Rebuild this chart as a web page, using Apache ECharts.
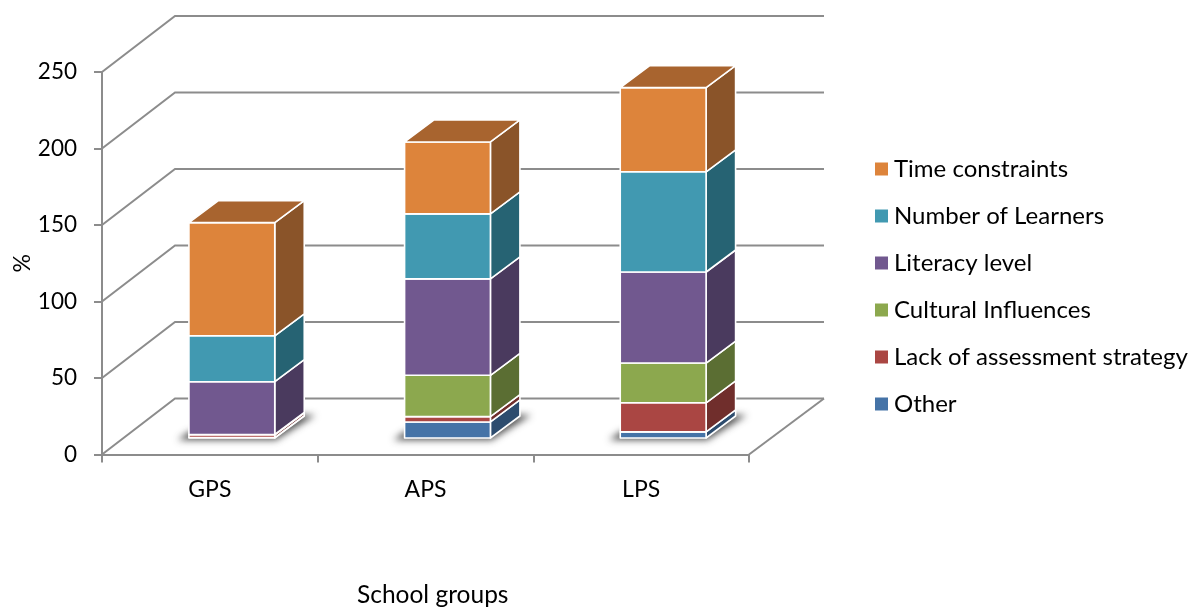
<!DOCTYPE html>
<html>
<head>
<meta charset="utf-8">
<style>html,body{margin:0;padding:0;background:#fff}#chart{width:1191px;height:607px}</style>
<script src="https://cdn.jsdelivr.net/npm/echarts@6/dist/echarts.min.js"></script>
</head>
<body>
<div id="chart"></div>
<script>
// Stacked percentages per school group, bottom layer first.
const groups = ['GPS', 'APS', 'LPS'];
const other = [0.3, 10.5, 4];
const lackOfStrategy = [1.8, 3.5, 19];
const culturalInfluences = [0.2, 27, 26];
const literacyLevel = [34.5, 63, 59.5];
const numberOfLearners = [30, 42.5, 65.5];
const timeConstraints = [74, 47, 55];
const wallLevels = [0, 50, 100, 150, 200, 250];

const layers = [
  { name: 'Other', values: other, front: '#4573A7', side: '#2D4C6E', top: '#375C86' },
  { name: 'Lack of assessment strategy', values: lackOfStrategy, front: '#AA4643', side: '#702E2C', top: '#883836' },
  { name: 'Cultural Influences', values: culturalInfluences, front: '#8CA84E', side: '#5B6E33', top: '#70863E' },
  { name: 'Literacy level', values: literacyLevel, front: '#71588F', side: '#4A3A5E', top: '#5A4672' },
  { name: 'Number of Learners', values: numberOfLearners, front: '#4199B1', side: '#266373', top: '#347A8D' },
  { name: 'Time constraints', values: timeConstraints, front: '#DD843B', side: '#8A5429', top: '#A8642F' }
];

// Oblique projection: wall depth, bar depth and the bar's inset from the front of the floor.
const WALL_DX = 73, WALL_DY = -56, WALL_END_DX = 75;
const BAR_DX = 29.5, BAR_DY = -22, INSET_DX = 22, INSET_DY = -16.5;
const BAR_RATIO = 0.398;
const GRID_COLOR = '#8C8C8C';
const SHADOW_SHIFT = 3000;

function barBox(api, cat, lo, hi) {
  const base = api.coord([cat, lo]);
  const head = api.coord([cat, hi]);
  const w = api.size([1, 0])[0] * BAR_RATIO;
  const x0 = base[0] - w / 2 + INSET_DX;
  return { x0, x1: x0 + w, yLo: base[1] + INSET_DY, yHi: head[1] + INSET_DY };
}

function face(points, fill) {
  return {
    type: 'polygon',
    shape: { points },
    style: { fill, stroke: '#fff', lineWidth: 1.6, lineJoin: 'round' }
  };
}

function renderWall(params, api) {
  const rect = params.coordSys;
  const y = api.coord([0, api.value(0)])[1];
  const x0 = rect.x, x1 = rect.x + rect.width;
  return {
    type: 'polyline',
    shape: { points: [[x0, y], [x0 + WALL_DX, y + WALL_DY], [x1 + WALL_END_DX, y + WALL_DY]] },
    style: { fill: null, stroke: GRID_COLOR, lineWidth: 2 }
  };
}

// Right edge of the floor plus the upright at the front of the left wall.
function renderFrame(params, api) {
  const rect = params.coordSys;
  const y = rect.y + rect.height;
  const x1 = rect.x + rect.width;
  return {
    type: 'group',
    children: [
      {
        type: 'line',
        shape: { x1: x1, y1: y, x2: x1 + WALL_END_DX, y2: y + WALL_DY },
        style: { stroke: GRID_COLOR, lineWidth: 2 }
      },
      {
        type: 'line',
        shape: { x1: rect.x, y1: rect.y, x2: rect.x, y2: y },
        style: { stroke: GRID_COLOR, lineWidth: 2 }
      }
    ]
  };
}

// The caster sits off-canvas so that only its blurred shadow lands on the floor.
function renderShadow(params, api) {
  const b = barBox(api, api.value(0), 0, 0);
  const pts = [
    [b.x0 - 11, b.yLo + 2],
    [b.x1 + 1, b.yLo + 2],
    [b.x1 + BAR_DX + 11, b.yLo + BAR_DY - 1],
    [b.x1 + BAR_DX - 4, b.yLo + BAR_DY - 1],
    [b.x0, b.yLo - 6]
  ].map(p => [p[0] - SHADOW_SHIFT, p[1]]);
  return {
    type: 'polygon',
    shape: { points: pts },
    style: { fill: '#000', shadowBlur: 7, shadowOffsetX: SHADOW_SHIFT, shadowColor: 'rgba(50,50,50,0.85)' }
  };
}

function renderLayer(layer, isTop) {
  return function (params, api) {
    const lo = api.value(1), hi = api.value(2);
    const b = barBox(api, api.value(0), lo, hi);
    const children = [
      face([[b.x1, b.yLo], [b.x1 + BAR_DX, b.yLo + BAR_DY], [b.x1 + BAR_DX, b.yHi + BAR_DY], [b.x1, b.yHi]], layer.side),
      face([[b.x0, b.yLo], [b.x1, b.yLo], [b.x1, b.yHi], [b.x0, b.yHi]], layer.front)
    ];
    if (isTop) {
      children.push(face([[b.x0, b.yHi], [b.x1, b.yHi], [b.x1 + BAR_DX, b.yHi + BAR_DY], [b.x0 + BAR_DX, b.yHi + BAR_DY]], layer.top));
    }
    return { type: 'group', children };
  };
}

// Running totals give each layer its lower and upper bound.
const running = groups.map(() => 0);
const layerSeries = layers.map((layer, li) => {
  const data = groups.map((g, i) => {
    const lo = running[i];
    running[i] = lo + layer.values[i];
    return [i, lo, running[i]];
  });
  return {
    type: 'custom',
    name: layer.name,
    coordinateSystem: 'cartesian2d',
    itemStyle: { color: layer.front },
    encode: { x: 0, y: 2 },
    data,
    silent: true,
    renderItem: renderLayer(layer, li === layers.length - 1)
  };
});

const FONT = 'Lato';
const chart = echarts.init(document.getElementById('chart'));
chart.setOption({
  animation: false,
  backgroundColor: '#fff',
  grid: { left: 102, top: 72, width: 647, height: 382.5, outerBoundsMode: 'none' },
  title: {
    text: 'School groups',
    left: 357, top: 583,
    textStyle: { fontFamily: FONT, fontSize: 24.5, fontWeight: 'normal', color: '#000' },
    padding: 0
  },
  legend: {
    orient: 'vertical',
    left: 875, top: 157,
    icon: 'rect',
    itemWidth: 13, itemHeight: 13,
    itemGap: 23,
    padding: 0,
    textStyle: { fontFamily: FONT, fontSize: 24, color: '#000', padding: [0, 0, 0, 1], height: 24, lineHeight: 24 },
    data: layers.map(l => l.name).reverse()
  },
  xAxis: {
    type: 'category',
    data: groups,
    axisLine: { show: true, onZero: false, lineStyle: { color: GRID_COLOR, width: 2 } },
    axisTick: { show: true, alignWithLabel: false, length: 8, lineStyle: { color: GRID_COLOR, width: 2 } },
    axisLabel: { fontFamily: FONT, fontSize: 23, color: '#000', margin: 24 }
  },
  yAxis: {
    type: 'value',
    min: 0, max: 250, interval: 50,
    name: '%',
    nameLocation: 'middle',
    nameRotate: 90,
    nameGap: 68,
    nameMoveOverlap: false,
    nameTextStyle: { fontFamily: FONT, fontSize: 23, color: '#000' },
    splitLine: { show: false },
    axisLine: { show: true, onZero: false, lineStyle: { color: GRID_COLOR, width: 2 } },
    axisTick: { show: true, length: 8, lineStyle: { color: GRID_COLOR, width: 2 } },
    axisLabel: { fontFamily: FONT, fontSize: 22.5, color: '#000', margin: 25, padding: [8, 0, 0, 0] }
  },
  series: [
    {
      type: 'custom',
      coordinateSystem: 'cartesian2d',
      data: wallLevels.map(v => [v]),
      encode: { y: 0 },
      silent: true,
      renderItem: renderWall
    },
    {
      type: 'custom',
      coordinateSystem: 'cartesian2d',
      data: [[0]],
      silent: true,
      renderItem: renderFrame
    },
    {
      type: 'custom',
      coordinateSystem: 'cartesian2d',
      data: groups.map((g, i) => [i]),
      encode: { x: 0 },
      silent: true,
      renderItem: renderShadow
    }
  ].concat(layerSeries)
});
</script>
</body>
</html>
